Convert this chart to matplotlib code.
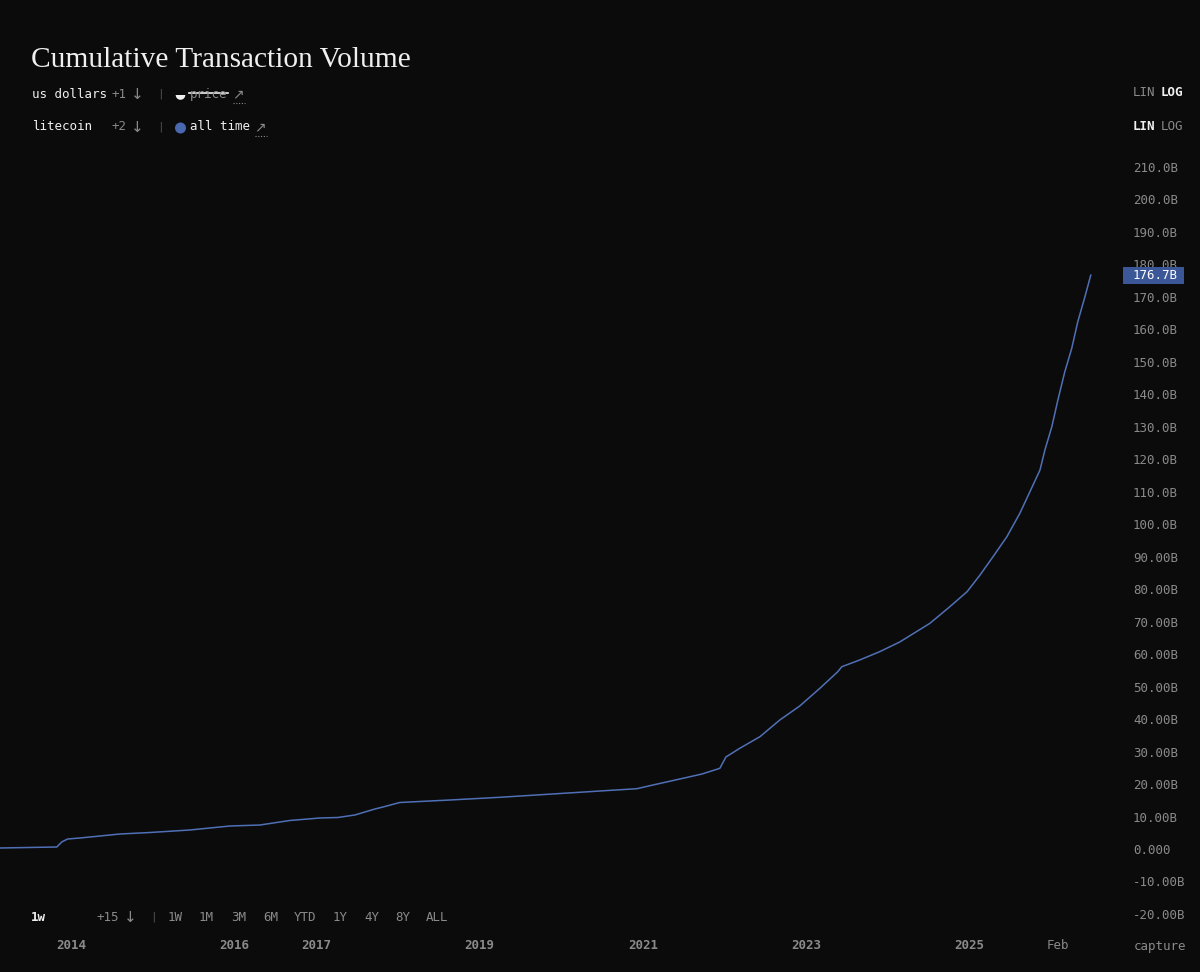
import numpy as np
import matplotlib
matplotlib.use("Agg")
import matplotlib.pyplot as plt
from matplotlib.patches import Wedge, Circle, Rectangle
from matplotlib.lines import Line2D
from matplotlib.transforms import IdentityTransform

# cumulative litecoin transaction volume, billions of USD
dates = ["2013-02-18", "2013-10-30", "2013-11-21", "2013-12-17", "2014-02-10",
         "2014-05-10", "2014-08-08", "2014-12-20", "2015-06-16", "2015-12-12",
         "2016-04-25", "2016-09-06", "2017-01-18", "2017-04-08", "2017-06-23",
         "2017-09-21", "2017-10-27", "2018-01-10", "2018-08-22", "2019-04-02",
         "2020-06-23", "2020-12-05", "2021-02-15", "2021-06-29", "2021-09-22",
         "2021-12-11", "2022-01-07", "2022-03-10", "2022-06-08", "2022-09-05",
         "2022-12-03", "2023-03-03", "2023-05-22", "2023-06-09", "2023-08-28",
         "2023-11-25", "2024-02-23", "2024-07-07", "2024-10-04", "2024-12-20",
         "2025-02-16", "2025-04-15", "2025-06-16", "2025-08-13", "2025-09-27",
         "2025-11-11", "2025-12-03", "2026-01-03", "2026-01-30", "2026-03-02",
         "2026-04-02", "2026-04-29", "2026-05-31", "2026-06-26"]
volume = [0.31, 0.62, 2.16, 3.08, 3.39,
          4.00, 4.62, 5.08, 5.85, 7.08,
          7.39, 8.78, 9.55, 9.70, 10.47,
          12.32, 12.93, 14.32, 15.09, 15.92,
          17.86, 18.57, 19.71, 21.77, 23.09,
          24.85, 28.33, 31.01, 34.58, 39.73,
          44.03, 49.48, 54.59, 56.13, 58.20,
          60.75, 63.74, 69.50, 74.61, 79.23,
          84.37, 90.00, 96.16, 103.37, 110.02,
          116.70, 122.86, 130.04, 138.26, 146.97,
          154.18, 162.37, 170.07, 176.70]

ytick_vals = list(range(-20, 211, 10))
xtick_dates = ["2014-01-01", "2016-01-01", "2017-01-01", "2019-01-01",
               "2021-01-01", "2023-01-01", "2025-01-01", "2026-02-01"]
xtick_labels = ["2014", "2016", "2017", "2019", "2021", "2023", "2025", "Feb"]
ranges = ["1W", "1M", "3M", "6M", "YTD", "1Y", "4Y", "8Y", "ALL"]
range_x = [168, 199, 231, 263, 294, 333, 364, 395, 426]

BG = "#0b0b0c"
BLUE = "#5070b6"
GREY = "#8a8a8a"
WHITE = "#f0f0f0"
SEP = "#555555"
MONO = "DejaVu Sans Mono"
ARROW = "DejaVu Sans"

W, H = 1200, 972


def fx(x):
    return x / W


def fy(y):
    return 1 - y / H


def fmt_b(v):
    if v == 0:
        return "0.000"
    if abs(v) >= 100:
        return f"{v:.1f}B"
    return f"{v:.2f}B"


def label(x, y, s, color=GREY, weight="normal", size=9, family=MONO):
    fig.text(fx(x), fy(y), s, fontsize=size, family=family, color=color,
             weight=weight, va="center")


fig = plt.figure(figsize=(12, 9.72), dpi=100, facecolor=BG)
ax = fig.add_axes([0, fy(930), fx(1110), fy(150) - fy(930)])
ax.set_facecolor(BG)

x = np.array(dates, dtype="datetime64[D]")
y = np.array(volume)
ax.plot(x, y, color=BLUE, lw=1.1, solid_joinstyle="round")

ax.set_xlim(np.datetime64("2013-02-18"), np.datetime64("2026-09-20"))
ax.set_ylim(-24.94, 215.24)
for s in ax.spines.values():
    s.set_visible(False)

ax.yaxis.tick_right()
ax.set_yticks(ytick_vals)
ax.set_yticklabels([fmt_b(v) for v in ytick_vals])
ax.tick_params(axis="y", length=0, pad=16.5, labelsize=9, labelcolor=GREY)
for t in ax.get_yticklabels():
    t.set_fontfamily(MONO)

ax.set_xticks(np.array(xtick_dates, dtype="datetime64[D]"))
ax.set_xticklabels(xtick_labels)
ax.tick_params(axis="x", length=0, pad=6.8, labelsize=9, labelcolor=GREY)
for t in ax.get_xticklabels():
    t.set_fontfamily(MONO)
    if t.get_text() != "Feb":
        t.set_fontweight("bold")

# last value badge, placed at the data value of the final point
ylast = ax.transData.transform((ax.get_xlim()[0], volume[-1]))[1]
fig.patches.append(Rectangle((1123, ylast - 8.5), 61, 17, fc="#3b5797", ec="none",
                             transform=IdentityTransform()))
fig.text(1133, ylast, f"{volume[-1]:.1f}B", transform=IdentityTransform(),
         fontsize=9, family=MONO, color="white", va="center", ha="left")

label(1134, 946, "capture")

# title and series controls
fig.text(fx(31), fy(67), "Cumulative Transaction Volume", fontsize=21.2, color=WHITE,
         family="Liberation Serif", va="baseline")

label(32, 94, "us dollars", WHITE)
label(112, 94, "+1")
label(131, 94, "\u2193", size=11, family=ARROW)
label(157, 94, "|", SEP, size=8)
fig.patches.append(Wedge((1.805, (H - 95) / 100), 0.048, 180, 360, fc=WHITE, ec="none",
                         transform=fig.dpi_scale_trans))
label(190, 94, "price")
fig.lines.append(Line2D([fx(189), fx(228)], [fy(93), fy(93)], color=WHITE, lw=1.2,
                        transform=fig.transFigure))
label(232, 94, "\u2197", size=10, family=ARROW)
fig.lines.append(Line2D([fx(233), fx(245)], [fy(103), fy(103)], color=GREY, lw=0.8,
                        ls=(0, (1, 1.5)), transform=fig.transFigure))

label(32, 127, "litecoin", WHITE)
label(112, 127, "+2")
label(131, 127, "\u2193", size=11, family=ARROW)
label(157, 127, "|", SEP, size=8)
fig.patches.append(Circle((1.805, (H - 128) / 100), 0.055, fc="#4a68b0", ec="none",
                          transform=fig.dpi_scale_trans))
label(190, 127, "all time", WHITE)
label(254, 127, "\u2197", size=10, family=ARROW)
fig.lines.append(Line2D([fx(255), fx(267)], [fy(136), fy(136)], color=GREY, lw=0.8,
                        ls=(0, (1, 1.5)), transform=fig.transFigure))

# scale toggles
label(1133, 93, "LIN")
label(1161, 93, "LOG", WHITE, "bold")
label(1133, 126, "LIN", WHITE, "bold")
label(1161, 126, "LOG")

# interval / range buttons
label(31, 917, "1w", WHITE, "bold")
label(97, 917, "+15")
label(124, 917, "\u2193", size=11, family=ARROW)
label(150, 917, "|", SEP, size=8)
for lab, px in zip(ranges, range_x):
    label(px, 917, lab)

fig.savefig("out.png", dpi=100, facecolor=BG)
